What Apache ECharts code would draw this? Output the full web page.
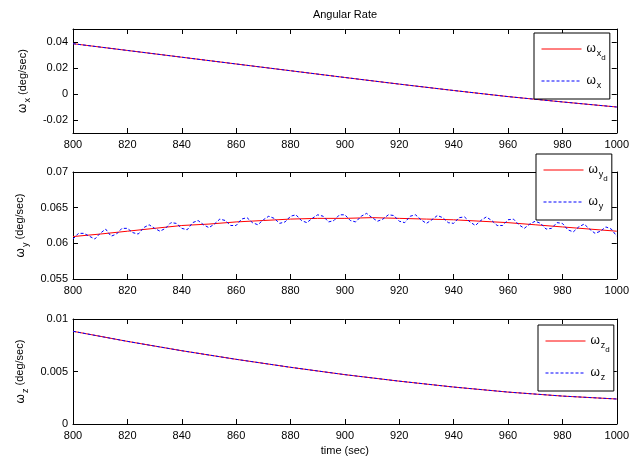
<!DOCTYPE html>
<html><head><meta charset="utf-8">
<script src="https://cdn.jsdelivr.net/npm/echarts@6/dist/echarts.min.js"></script>
<style>html,body{margin:0;padding:0;background:#fff}#c{width:632px;height:461px}</style>
</head><body><div id="c"></div>
<script>
// ---- data ----
const xTicks = [800,820,840,860,880,900,920,940,960,980,1000];
const tX = [800,820,840,860,880,900,920,940,960,980,1000];
const wxDesired = [0.0387,0.0335,0.0283,0.0231,0.0179,0.0127,0.0076,0.0027,-0.0020,-0.0061,-0.0100];
const wxActual  = [0.0387,0.0335,0.0283,0.0231,0.0179,0.0127,0.0076,0.0027,-0.0020,-0.0061,-0.0100];

const tYd = [800,810,820,830,840,850,860,870,880,890,900,910,920,930,940,950,960,970,980,990,1000];
const wyDesired = [0.06095,0.0613,0.0617,0.0621,0.0625,0.0627,0.0630,0.0632,0.0634,0.0635,0.0635,0.0636,0.0635,0.0634,0.0633,0.0631,0.0629,0.0626,0.0623,0.0620,0.0617];
const tYaStart = 800, tYaStep = 2;
const wyActual = [
0.0606,0.0614,0.0614,0.0610,0.0606,0.0614,0.0620,0.0610,0.0613,0.0621,
0.0621,0.0615,0.0613,0.0622,0.0626,0.0621,0.0617,0.0621,0.0629,0.0628,
0.0621,0.0619,0.0629,0.0632,0.0626,0.0622,0.0627,0.0634,0.0632,0.0625,
0.0625,0.0634,0.0636,0.0629,0.0626,0.0633,0.0638,0.0635,0.0628,0.0630,
0.0638,0.0640,0.0632,0.0629,0.0635,0.0640,0.0638,0.0630,0.0632,0.0640,
0.0640,0.0632,0.0630,0.0638,0.0642,0.0636,0.0631,0.0634,0.0640,0.0639,
0.0631,0.0629,0.0638,0.0640,0.0633,0.0628,0.0633,0.0639,0.0636,0.0629,
0.0628,0.0636,0.0637,0.0630,0.0625,0.0632,0.0637,0.0632,0.0625,0.0625,
0.0633,0.0634,0.0626,0.0621,0.0627,0.0631,0.0628,0.0620,0.0621,0.0629,
0.0628,0.0619,0.0616,0.0623,0.0627,0.0620,0.0614,0.0617,0.0623,0.0620,
0.0610];

const tZ = [800,820,840,860,880,900,920,940,960,980,1000];
const wzDesired = [0.00883,0.00787,0.00698,0.00616,0.00540,0.00470,0.00408,0.00352,0.00304,0.00266,0.00238];
const wzActual  = [0.00883,0.00787,0.00698,0.00616,0.00540,0.00470,0.00408,0.00352,0.00304,0.00266,0.00238];

const yTicksX = [-0.02,0,0.02,0.04];
const yTicksY = [0.055,0.06,0.065,0.07];
const yTicksZ = [0,0.005,0.01];

// ---- chart ----
const FONT = 'Liberation Sans, Arial, sans-serif';
const pair = (ts, vs) => vs.map((v,i)=>[ts[i], v]);
const wyActualData = wyActual.map((v,i)=>[tYaStart + i*tYaStep, v]);

const grids = [
  {left:73, top:29, width:545, height:104},
  {left:73, top:172, width:545, height:107},
  {left:73, top:319, width:545, height:105}
];
const yRanges = [[-0.03,0.05,yTicksX],[0.055,0.07,yTicksY],[0,0.01,yTicksZ]];
const subs = ['x','y','z'];

const rich = {
  w:{fontSize:12, lineHeight:12, verticalAlign:'top', fontFamily:FONT, color:'#000'},
  s:{fontSize:9, lineHeight:9, verticalAlign:'top', padding:[6,0,0,1], fontFamily:FONT, color:'#000'},
  d:{fontSize:8, lineHeight:8, verticalAlign:'top', padding:[11,0,0,0], fontFamily:FONT, color:'#000'},
  r:{fontSize:11, lineHeight:12, verticalAlign:'top', fontFamily:FONT, color:'#000'}
};

const axLine = {show:true, onZero:false, lineStyle:{color:'#000', width:1}};
const xAxis = [], yAxis = [], series = [];
grids.forEach((g,i)=>{
  xAxis.push({gridIndex:i, type:'value', min:800, max:1000, interval:20, position:'bottom',
    axisLine:axLine, axisTick:{inside:true, length:5, lineStyle:{color:'#000'}},
    axisLabel:{fontFamily:FONT, fontSize:11, color:'#000', margin:6, formatter:v=>String(v)},
    splitLine:{show:false},
    name: i===2 ? 'time (sec)' : '', nameLocation:'middle', nameGap:21,
    nameTextStyle:{fontFamily:FONT, fontSize:11, color:'#000'}});
  xAxis.push({gridIndex:i, type:'value', min:800, max:1000, interval:20, position:'top',
    axisLine:axLine, axisTick:{inside:true, length:5, lineStyle:{color:'#000'}},
    axisLabel:{show:false}, splitLine:{show:false}});
  const [mn,mx,tk] = yRanges[i];
  yAxis.push({gridIndex:i, type:'value', min:mn, max:mx, position:'left',
    axisLine:axLine,
    axisTick:{inside:true, length:5, lineStyle:{color:'#000'}, customValues:tk},
    axisLabel:{fontFamily:FONT, fontSize:11, color:'#000', margin:5, customValues:tk,
      formatter:v=>String(+(+v).toFixed(4))},
    splitLine:{show:false},
    name:'{w|ω}{s|'+subs[i]+'}{r| (deg/sec)}', nameLocation:'middle', nameGap:42, nameRotate:90,
    nameTextStyle:{rich:rich}});
  yAxis.push({gridIndex:i, type:'value', min:mn, max:mx, position:'right',
    axisLine:axLine,
    axisTick:{inside:true, length:5, lineStyle:{color:'#000'}, customValues:tk},
    axisLabel:{show:false, customValues:tk}, splitLine:{show:false}});
});

const dataSets = [
  [pair(tX,wxDesired), pair(tX,wxActual)],
  [pair(tYd,wyDesired), wyActualData],
  [pair(tZ,wzDesired), pair(tZ,wzActual)]
];
const names = [['wxd','wx'],['wyd','wy'],['wzd','wz']];
const labelMap = {
  wxd:'{w|ω}{s|x}{d|d}', wx:'{w|ω}{s|x}',
  wyd:'{w|ω}{s|y}{d|d}', wy:'{w|ω}{s|y}',
  wzd:'{w|ω}{s|z}{d|d}', wz:'{w|ω}{s|z}'
};
dataSets.forEach((ds,i)=>{
  series.push({name:names[i][0], type:'line', xAxisIndex:2*i, yAxisIndex:2*i, data:ds[0],
    symbol:'none', lineStyle:{color:'#ff0000', width:1}, itemStyle:{color:'#ff0000'}, animation:false});
  series.push({name:names[i][1], type:'line', xAxisIndex:2*i, yAxisIndex:2*i, data:ds[1],
    symbol:'none', lineStyle:{color:'#0000ff', width:1, type:[3,2]}, itemStyle:{color:'#0000ff'}, animation:false});
});

const legendPos = [{left:534, top:33},{left:536, top:154},{left:538, top:325}];
const legend = legendPos.map((p,i)=>({
  data:names[i], orient:'vertical', left:p.left, top:p.top,
  padding:[10,4,9,7], itemWidth:40, itemHeight:14, itemGap:13,
  itemStyle:{opacity:0},
  lineStyle:{width:1},
  borderColor:'#000', borderWidth:1, backgroundColor:'#fff',
  selectedMode:false,
  formatter:n=>labelMap[n],
  textStyle:{rich:rich}
}));

const option = {
  animation:false,
  backgroundColor:'#fff',
  title:{text:'Angular Rate', left:345, top:9, padding:0, textAlign:'center',
    textStyle:{fontFamily:FONT, fontSize:11, fontWeight:'normal', color:'#000'}},
  grid:grids, xAxis:xAxis, yAxis:yAxis, series:series, legend:legend
};
const chart = echarts.init(document.getElementById('c'), null, {renderer:'canvas'});
chart.setOption(option);
</script></body></html>
